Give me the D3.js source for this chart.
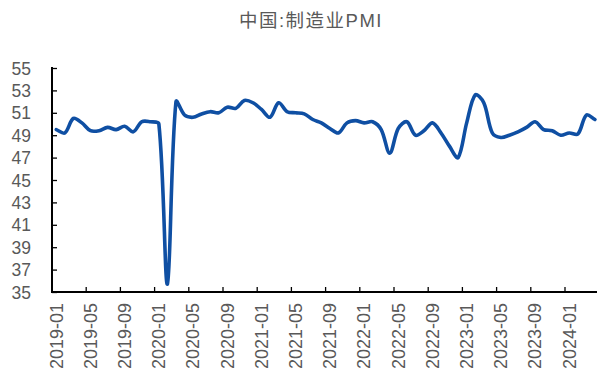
<!DOCTYPE html>
<html>
<head>
<meta charset="utf-8">
<script src="https://cdn.jsdelivr.net/npm/d3@7"></script>
<style>
  html, body { margin: 0; padding: 0; background: #fff; }
  svg { display: block; }
</style>
</head>
<body>
<svg id="chart" width="597" height="376"></svg>
<script>
// Monthly manufacturing PMI, 2019-01 .. 2024-04
const months = [];
for (let yr = 2019; yr <= 2024; yr++) {
  for (let m = 1; m <= 12; m++) {
    if (yr === 2024 && m > 4) break;
    months.push(yr + "-" + String(m).padStart(2, "0"));
  }
}
const pmi2019 = [49.5, 49.2, 50.5, 50.1, 49.4, 49.4, 49.7, 49.5, 49.8, 49.3, 50.2, 50.2];
const pmi2020 = [50.0, 35.7, 52.0, 50.8, 50.6, 50.9, 51.1, 51.0, 51.5, 51.4, 52.1, 51.9];
const pmi2021 = [51.3, 50.6, 51.9, 51.1, 51.0, 50.9, 50.4, 50.1, 49.6, 49.2, 50.1, 50.3];
const pmi2022 = [50.1, 50.2, 49.5, 47.4, 49.6, 50.2, 49.0, 49.4, 50.1, 49.2, 48.0, 47.0];
const pmi2023 = [50.1, 52.6, 51.9, 49.2, 48.8, 49.0, 49.3, 49.7, 50.2, 49.5, 49.4, 49.0];
const pmi2024 = [49.2, 49.1, 50.8, 50.4];
const pmiValues = [].concat(pmi2019, pmi2020, pmi2021, pmi2022, pmi2023, pmi2024);
const yTicks = [35, 37, 39, 41, 43, 45, 47, 49, 51, 53, 55];
const titleText = "中国:制造业PMI";

const data = months.map((m, i) => ({ month: m, value: pmiValues[i] }));

// Spreadsheet-style smoothed line: cubic Bezier segments whose tangents are
// weighted by neighbouring chord lengths, so steep jumps don't overshoot.
function CurveSmoothChord(context) { this._context = context; }
CurveSmoothChord.prototype = {
  areaStart() { this._line = 0; },
  areaEnd() { this._line = NaN; },
  lineStart() { this._pts = []; },
  point(x, y) { this._pts.push([+x, +y]); },
  lineEnd() {
    const p = this._pts, n = p.length, ctx = this._context;
    if (!n) return;
    const dist = (a, b) => Math.hypot(b[0] - a[0], b[1] - a[1]);
    ctx.moveTo(p[0][0], p[0][1]);
    for (let i = 0; i < n - 1; i++) {
      const p0 = p[Math.max(i - 1, 0)], p1 = p[i], p2 = p[i + 1], p3 = p[Math.min(i + 2, n - 1)];
      const d01 = dist(p0, p1), d12 = dist(p1, p2), d23 = dist(p2, p3);
      const f1 = (d01 + d12) > 0 ? d12 / (d01 + d12) / 3 : 0;
      const f2 = (d12 + d23) > 0 ? d12 / (d12 + d23) / 3 : 0;
      const c1 = [p1[0] + (p2[0] - p0[0]) * f1, p1[1] + (p2[1] - p0[1]) * f1];
      const c2 = [p2[0] - (p3[0] - p1[0]) * f2, p2[1] - (p3[1] - p1[1]) * f2];
      ctx.bezierCurveTo(c1[0], c1[1], c2[0], c2[1], p2[0], p2[1]);
    }
  }
};
const curveSmoothChord = context => new CurveSmoothChord(context);

const svg = d3.select("#chart");
const plotLeft = 52, plotTop = 68, plotBottom = 292;
const step = 8.55;
const plotRight = plotLeft + step * months.length;

const x = d3.scaleBand().domain(months).range([plotLeft, plotRight]).padding(0);
const y = d3.scaleLinear().domain([35, 55]).range([plotBottom, plotTop]);

const textColor = "#595959";
const latin = "'Liberation Sans', Arial, sans-serif";

// Title
svg.append("text")
  .attr("x", 311).attr("y", 27)
  .attr("text-anchor", "middle")
  .attr("fill", textColor)
  .attr("font-size", 18.5)
  .attr("letter-spacing", 1.5)
  .attr("font-family", "'Liberation Sans', 'Noto Sans CJK SC', sans-serif")
  .text(titleText);

// Y axis: ticks inside the plot, labels on the left
const yAxis = d3.axisRight(y).tickValues(yTicks).tickSize(5).tickFormat(d3.format("d"));
const yG = svg.append("g").attr("transform", `translate(${plotLeft},0)`).call(yAxis);
yG.select(".domain").remove();
yG.selectAll(".tick line").attr("stroke", "#000").attr("stroke-width", 1.3);
yG.selectAll(".tick text")
  .attr("x", -21).attr("text-anchor", "end")
  .attr("fill", textColor)
  .attr("font-size", 17.5)
  .attr("font-family", latin)
  .attr("dy", "0.35em");
svg.append("line")
  .attr("x1", plotLeft).attr("x2", plotLeft)
  .attr("y1", plotTop - 1).attr("y2", plotBottom + 1)
  .attr("stroke", "#000").attr("stroke-width", 2);

// X axis: tick marks between categories every 4 months, labels at category centres
const tickMonths = months.filter((m, i) => i % 4 === 0 && i > 0);
svg.append("g").selectAll("line")
  .data(tickMonths)
  .join("line")
  .attr("x1", d => x(d)).attr("x2", d => x(d))
  .attr("y1", plotBottom).attr("y2", plotBottom - 5)
  .attr("stroke", "#000").attr("stroke-width", 1.3);
svg.append("line")
  .attr("x1", plotLeft - 1).attr("x2", plotRight)
  .attr("y1", plotBottom).attr("y2", plotBottom)
  .attr("stroke", "#000").attr("stroke-width", 2);

const labelMonths = months.filter((m, i) => i % 4 === 0);
svg.append("g").selectAll("text")
  .data(labelMonths)
  .join("text")
  .attr("transform", d => `translate(${x(d) + x.bandwidth() / 2},${plotBottom + 11}) rotate(-90)`)
  .attr("text-anchor", "end")
  .attr("dy", "0.35em")
  .attr("fill", textColor)
  .attr("font-size", 18)
  .attr("font-family", latin)
  .text(d => d);

// PMI line
const line = d3.line()
  .x(d => x(d.month) + x.bandwidth() / 2)
  .y(d => y(d.value))
  .curve(curveSmoothChord);
svg.append("path")
  .datum(data)
  .attr("d", line)
  .attr("fill", "none")
  .attr("stroke", "#0f4fa3")
  .attr("stroke-width", 3.6)
  .attr("stroke-linejoin", "round")
  .attr("stroke-linecap", "round");
</script>
</body>
</html>
